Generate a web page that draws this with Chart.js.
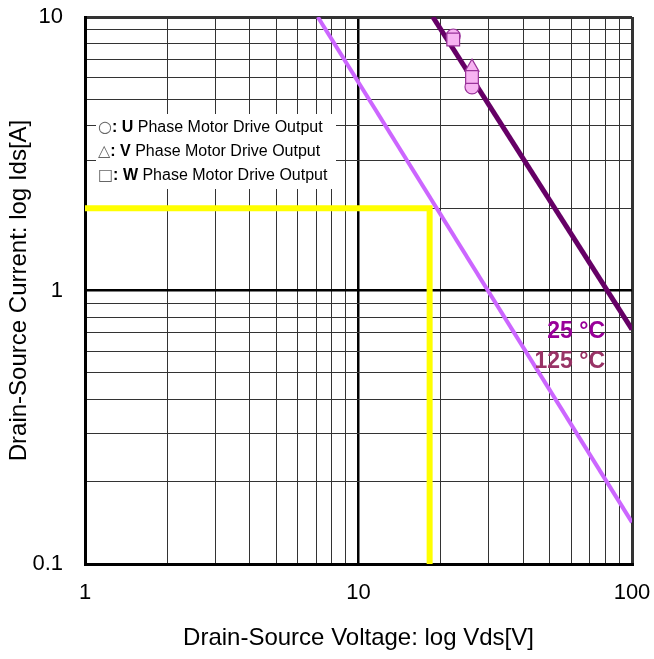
<!DOCTYPE html>
<html>
<head>
<meta charset="utf-8">
<script src="https://cdn.jsdelivr.net/npm/chart.js@4.4.1/dist/chart.umd.min.js"></script>
<style>
html,body{margin:0;padding:0;background:#fff;}
#c{display:block;}
</style>
</head>
<body>
<canvas id="c" width="654" height="659"></canvas>
<script>
// ---- data ----
const xTickValues = [1,2,3,4,5,6,7,8,9,10,20,30,40,50,60,70,80,90,100];
const yTickValues = [0.1,0.2,0.3,0.4,0.5,0.6,0.7,0.8,0.9,1,2,3,4,5,6,7,8,9,10];
const xLabelValues = [1,10,100];
const yLabelValues = [0.1,1,10];

const line25V = [18.7, 100];
const line25I = [10, 0.72];
const line125V = [7.1, 100];
const line125I = [10, 0.142];

const yellowV = [1, 18.2, 18.2];
const yellowI = [2, 2, 0.1];

const circleV = [22.2, 26.0];
const circleI = [8.52, 5.55];
const triangleV = [26.0];
const triangleI = [6.56];
const squareV = [22.2, 26.0];
const squareI = [8.27, 6.03];

const legendRows = [
  {sym:'○', letter:'U', rest:' Phase Motor Drive Output'},
  {sym:'△', letter:'V', rest:' Phase Motor Drive Output'},
  {sym:'□', letter:'W', rest:' Phase Motor Drive Output'}
];
const tempLabels = [
  {text:'25 °C', color:'#990099', v:79.7, i:0.705},
  {text:'125 °C', color:'#993366', v:79.7, i:0.548}
];

const pts = (xs, ys) => xs.map((x, k) => ({x: x, y: ys[k]}));

const FONT = '"Liberation Sans", Arial, sans-serif';

const overlay = {
  id: 'overlay',
  beforeDatasetsDraw(chart) {
    const ctx = chart.ctx;
    ctx.save();
    ctx.fillStyle = '#fff';
    ctx.fillRect(96, 114, 240, 75);
    const ys = [128, 152, 176];
    ctx.textBaseline = 'middle';
    legendRows.forEach((r, k) => {
      let x = 98;
      ctx.font = '16px "DejaVu Sans", sans-serif';
      ctx.fillStyle = '#666';
      ctx.fillText(r.sym, x, ys[k]);
      x += ctx.measureText(r.sym).width;
      ctx.font = 'bold 16px ' + FONT;
      ctx.fillStyle = '#000';
      const b = ': ' + r.letter;
      ctx.fillText(b, x, ys[k]);
      x += ctx.measureText(b).width;
      ctx.font = '16px ' + FONT;
      ctx.fillText(r.rest, x, ys[k]);
    });
    ctx.restore();
  },
  afterDatasetsDraw(chart) {
    const ctx = chart.ctx;
    const xs = chart.scales.x, ysc = chart.scales.y;
    ctx.save();
    ctx.font = 'bold 23px ' + FONT;
    ctx.textAlign = 'right';
    ctx.textBaseline = 'middle';
    tempLabels.forEach(t => {
      ctx.fillStyle = t.color;
      ctx.fillText(t.text, xs.getPixelForValue(t.v), ysc.getPixelForValue(t.i));
    });
    ctx.restore();
  }
};

const gridWidth = (ends, majors) => (c) => {
  const v = c.tick ? c.tick.value : null;
  if (ends.includes(v)) return 3;
  if (majors.includes(v)) return 2.5;
  return 1;
};
const gridColor = (majors) => (c) => {
  const v = c.tick ? c.tick.value : null;
  return majors.includes(v) ? '#000' : '#333';
};
const noPad = (s) => { s.paddingTop = 0; s.paddingBottom = 0; s.paddingLeft = 0; s.paddingRight = 0; };

new Chart(document.getElementById('c'), {
  type: 'scatter',
  data: {
    datasets: [
      {data: pts(squareV, squareI), pointStyle: 'rect', pointRadius: 9, backgroundColor: '#f7b3f2', borderColor: '#993399', borderWidth: 1.2, order: 0},
      {data: pts(triangleV, triangleI), pointStyle: 'triangle', pointRadius: 8, backgroundColor: '#f7b3f2', borderColor: '#993399', borderWidth: 1.2, order: 1},
      {data: pts(circleV, circleI), pointStyle: 'circle', pointRadius: 7, backgroundColor: '#f7b3f2', borderColor: '#993399', borderWidth: 1.2, order: 2},
      {data: pts(line25V, line25I), showLine: true, borderColor: '#660066', borderWidth: 5, pointRadius: 0, order: 3},
      {data: pts(line125V, line125I), showLine: true, borderColor: '#cc66ff', borderWidth: 4, pointRadius: 0, order: 4},
      {data: pts(yellowV, yellowI), showLine: true, borderColor: '#ffff00', borderWidth: 6, pointRadius: 0, order: 5, borderJoinStyle: 'miter', borderCapStyle: 'butt'}
    ]
  },
  options: {
    responsive: false,
    animation: false,
    devicePixelRatio: 1,
    layout: {padding: {top: 17, right: 22, bottom: 0, left: 0}},
    plugins: {legend: {display: false}, tooltip: {enabled: false}},
    scales: {
      x: {
        type: 'logarithmic',
        min: 1, max: 100,
        afterBuildTicks: (s) => { s.ticks = xTickValues.map(v => ({value: v})); },
        afterFit: (s) => { s.height = 95; noPad(s); },
        ticks: {
          autoSkip: false, maxRotation: 0, padding: 16,
          color: '#000', font: {family: FONT, size: 22},
          callback: (v) => xLabelValues.includes(v) ? String(v) : ''
        },
        grid: {drawTicks: false, color: gridColor([10]), lineWidth: gridWidth([1, 100], [10])},
        border: {display: true, color: '#000', width: 3},
        title: {display: true, text: 'Drain-Source Voltage: log Vds[V]', color: '#000', font: {family: FONT, size: 24}, padding: {top: 4, bottom: 6}}
      },
      y: {
        type: 'logarithmic',
        min: 0.1, max: 10,
        afterBuildTicks: (s) => { s.ticks = yTickValues.map(v => ({value: v})); },
        afterFit: (s) => { s.width = 85; noPad(s); },
        ticks: {
          autoSkip: false, padding: 22,
          color: '#000', font: {family: FONT, size: 22},
          callback: (v) => yLabelValues.includes(v) ? String(v) : ''
        },
        grid: {drawTicks: false, color: gridColor([1]), lineWidth: gridWidth([0.1, 10], [1])},
        border: {display: true, color: '#000', width: 3},
        title: {display: true, text: 'Drain-Source Current: log Ids[A]', color: '#000', font: {family: FONT, size: 24}, padding: {top: 5, bottom: 4}}
      }
    }
  },
  plugins: [overlay]
});
</script>
</body>
</html>
